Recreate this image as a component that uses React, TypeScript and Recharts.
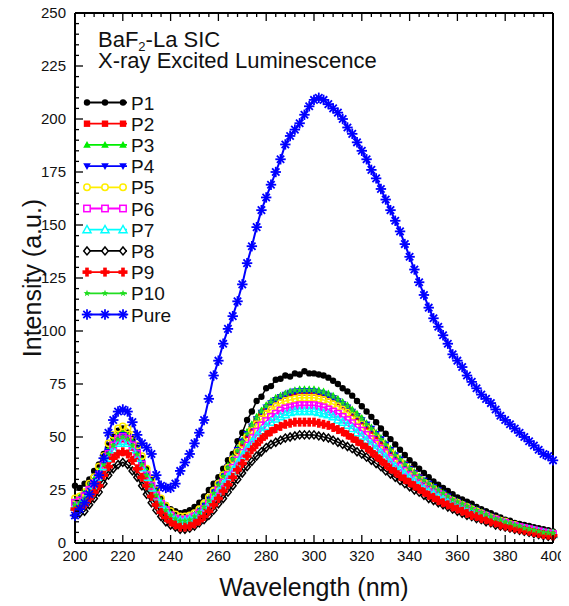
import React from 'react';
import { LineChart, Line, XAxis, YAxis } from 'recharts';

const WAVELENGTH = [
  200, 202, 204, 206, 208, 210, 212, 214, 216, 218,
  220, 222, 224, 226, 228, 230, 232, 234, 236, 238,
  240, 242, 244, 246, 248, 250, 252, 254, 256, 258,
  260, 262, 264, 266, 268, 270, 272, 274, 276, 278,
  280, 282, 284, 286, 288, 290, 292, 294, 296, 298,
  300, 302, 304, 306, 308, 310, 312, 314, 316, 318,
  320, 322, 324, 326, 328, 330, 332, 334, 336, 338,
  340, 342, 344, 346, 348, 350, 352, 354, 356, 358,
  360, 362, 364, 366, 368, 370, 372, 374, 376, 378,
  380, 382, 384, 386, 388, 390, 392, 394, 396, 398,
  400,
];

const P1 = [
  27, 26, 28, 30, 34, 37, 42, 46, 50, 53,
  54, 52, 49, 45, 40, 35, 30, 25, 21, 18,
  16, 15, 14, 14.5, 15.5, 17, 19, 22, 25, 28,
  31, 35, 39, 42, 48, 52, 58, 62, 67, 69,
  73, 74, 77, 77.5, 79, 78.5, 80, 79.5, 81, 80,
  80, 79.5, 79, 78, 76.5, 75, 73, 71.5, 69.5, 67,
  64.5, 62, 59.5, 57, 54, 51.5, 49, 46.5, 44, 41.5,
  39, 37, 35, 33, 31, 29, 27.5, 26, 24.5, 23,
  21.5, 20.5, 19.5, 18.5, 17, 16, 15, 14, 13, 12,
  11, 10.5, 9.5, 9, 8.5, 8, 7.5, 7, 6.5, 6,
  5.5,
];

const P2 = [
  19, 20, 22, 25, 28, 32, 37, 42, 46, 48,
  49, 48, 45, 41, 36, 31, 26, 22, 18, 15,
  13, 11.5, 10.5, 10.5, 11, 12.5, 14.5, 17, 20, 23.5,
  27.5, 31.5, 35.5, 39.5, 43.5, 47, 51, 54.5, 58, 61,
  63.5, 65.5, 67, 68.5, 69.5, 70.5, 71, 71, 71, 71,
  71, 70.5, 70, 69, 68, 66.5, 65, 63.5, 61.5, 59.5,
  57.5, 55, 53, 50.5, 48, 46, 43.5, 41, 39, 37,
  35, 33, 31, 29, 27.5, 26, 24.5, 23, 21.5, 20,
  19, 18, 17, 16, 15, 14, 13, 12, 11, 10.5,
  10, 9, 8.5, 7.5, 7, 6.5, 6, 5.5, 5, 4.7,
  4.3,
];

const P3 = [
  20, 22, 24, 27, 30, 34, 39, 44, 48, 51,
  52, 51, 48, 44, 39, 34, 29, 24, 20, 16.5,
  14, 12.5, 11.5, 11.5, 12, 13.5, 15.5, 18, 21, 24.5,
  28.5, 32.5, 36.5, 40.5, 44.5, 48.5, 52.5, 56, 59.5, 62.5,
  65, 67, 68.5, 69.5, 70.5, 71.5, 72, 72.5, 72.5, 72.5,
  72.5, 72, 71.5, 70.5, 69.5, 68, 66.5, 65, 63, 61,
  59, 56.5, 54.5, 52, 49.5, 47, 44.5, 42, 40, 37.5,
  35.5, 33.5, 31.5, 29.5, 28, 26.5, 25, 23.5, 22, 20.5,
  19.5, 18.5, 17.5, 16.5, 15.5, 14.5, 13.5, 12.5, 11.5, 10.5,
  10, 9, 8.5, 7.5, 7, 6.5, 6, 5.5, 5, 4.8,
  4.6,
];

const P4 = [
  19, 21, 23, 26, 29, 33, 38, 43, 47, 50,
  51, 50, 47, 43, 38, 33, 28, 23, 19, 16,
  13.5, 12, 11, 11, 11.5, 13, 15, 17.5, 20.5, 24,
  28, 32, 36, 40, 44, 48, 51.5, 55, 58.5, 61.5,
  64, 66, 67.5, 69, 70, 71, 71.5, 71.5, 71.5, 71.5,
  71.5, 71, 70.5, 69.5, 68.5, 67, 65.5, 64, 62, 60,
  58, 56, 54, 51.5, 49, 46.5, 44, 41.5, 39.5, 37,
  35, 33, 31, 29.5, 28, 26.5, 25, 23.5, 22, 20.5,
  19.5, 18.5, 17.5, 16.5, 15.5, 14.5, 13.5, 12.5, 11.5, 10.5,
  10, 9, 8.5, 7.5, 7, 6.5, 6, 5.5, 5, 4.7,
  4.5,
];

const P5 = [
  21, 22, 24, 28, 31, 36, 41, 47, 51, 54,
  55, 54, 51, 46, 41, 35, 30, 25, 21, 17.5,
  15, 13.5, 12.5, 12.5, 13, 14, 16, 18.5, 21.5, 24.5,
  28, 32, 35.5, 39.5, 43, 46.5, 50, 53, 56, 58.5,
  61, 63, 64.5, 66, 67, 67.5, 68, 68.5, 68.5, 68.5,
  68.5, 68, 67.5, 66.5, 65.5, 64.5, 63, 61.5, 60, 58,
  56, 54, 52, 49.5, 47, 45, 42.5, 40, 38, 36,
  34, 32, 30, 28.5, 27, 25.5, 24, 22.5, 21, 20,
  19, 18, 17, 16, 15, 14, 13, 12, 11.5, 10.5,
  10, 9, 8.5, 7.5, 7, 6.5, 6, 5.5, 5, 4.7,
  4.5,
];

const P6 = [
  19, 20, 22, 25, 28, 32, 37, 42, 46, 49,
  50, 49, 46, 42, 37, 32, 27, 22.5, 18.5, 15.5,
  13, 11.5, 11, 11, 11.5, 12.5, 14, 16, 18.5, 21.5,
  25, 28.5, 32, 35.5, 39, 42.5, 46, 49.5, 52.5, 55.5,
  57.5, 59.5, 61, 62.5, 63.5, 64, 64.5, 65, 65, 65,
  65, 64.5, 64, 63, 62, 61, 59.5, 58, 56.5, 54.5,
  53, 51, 49, 47, 44.5, 42.5, 40, 38, 36, 34,
  32, 30.5, 28.5, 27, 25.5, 24, 23, 21.5, 20, 19,
  18, 17, 16, 15, 14, 13.5, 12.5, 11.5, 11, 10,
  9.5, 8.5, 8, 7.5, 7, 6.5, 6, 5.5, 5, 4.5,
  4.2,
];

const P7 = [
  17, 18, 20, 23, 27, 31, 36, 40, 44, 47,
  48, 47, 44, 40, 35.5, 31, 26, 21.5, 18, 15,
  12.5, 11, 10.5, 10.5, 11, 12, 13.5, 15.5, 18, 20.5,
  24, 27.5, 31, 34, 37.5, 41, 44.5, 47.5, 50.5, 53,
  55, 57, 58.5, 59.5, 60.5, 61.5, 62, 62, 62, 62,
  62, 61.5, 61, 60.5, 59.5, 58, 57, 55.5, 54, 52,
  50.5, 48.5, 46.5, 44.5, 42.5, 40.5, 38, 36, 34.5, 32.5,
  30.5, 29, 27, 25.5, 24, 23, 21.5, 20.5, 19, 18,
  17, 16, 15, 14.5, 13.5, 12.5, 12, 11, 10, 9.5,
  9, 8, 7.5, 7, 6.5, 6, 5.5, 5, 4.5, 4.2,
  4,
];

const P8 = [
  13, 14, 15, 18, 21, 24, 28, 32, 35, 37,
  38, 37, 34, 31, 27, 23, 19, 15.5, 12.5, 10,
  8.5, 7.5, 6.5, 6.5, 7, 8, 9.5, 11, 13, 15.5,
  18.5, 21, 24, 27, 30, 33, 36, 38.5, 41, 43,
  45, 46.5, 47.5, 48.5, 49.5, 50, 50.5, 51, 51, 51,
  51, 50.5, 50, 49.5, 48.5, 47.5, 46.5, 45.5, 44.5, 43,
  42, 40.5, 39, 37.5, 36, 34, 32.5, 31, 29.5, 28,
  26.5, 25, 24, 22.5, 21, 20, 19, 18, 17, 16,
  15, 14, 13, 12.5, 11.5, 11, 10, 9.5, 8.5, 8,
  7.5, 7, 6.5, 6, 5.5, 5, 4.5, 4, 3.5, 3.2,
  3,
];

const P9 = [
  16, 17, 18, 21, 24, 27, 32, 36, 40, 42,
  43, 42, 39, 35, 31, 27, 22, 18, 14.5, 12,
  10, 8.5, 7.5, 7.5, 8, 9, 10.5, 12.5, 15, 18,
  21, 24.5, 27.5, 31, 34.5, 37.5, 41, 44, 46.5, 49,
  51, 52.5, 54, 55, 56, 56.5, 57, 57, 57, 57,
  57, 56.5, 56, 55.5, 54.5, 53.5, 52.5, 51, 49.5, 48,
  46.5, 45, 43, 41, 39, 37, 35, 33.5, 31.5, 30,
  28.5, 27, 25.5, 24, 22.5, 21.5, 20, 19, 18, 17,
  16, 15, 14, 13, 12.5, 11.5, 11, 10, 9.5, 8.5,
  8, 7.5, 7, 6.5, 6, 5.5, 5, 4.5, 4, 3.7,
  3.4,
];

const P10 = [
  18, 19, 21, 24, 28, 32, 37, 42, 46, 49,
  50, 49, 46, 42, 37, 32, 27, 22.5, 18.5, 15.5,
  13, 11.5, 10.5, 10.5, 11, 12.5, 14.5, 17, 20, 23.5,
  27.5, 31.5, 35.5, 39.5, 43.5, 47.5, 51.5, 55.5, 59, 62,
  64.5, 66.5, 68, 69.5, 70.5, 71.5, 72, 72, 72, 72,
  72, 71.5, 71, 70, 69, 67.5, 66, 64.5, 62.5, 60.5,
  58.5, 56, 54, 51.5, 49, 46.5, 44, 41.5, 39.5, 37,
  35, 33, 31, 29.5, 28, 26.5, 25, 23.5, 22, 20.5,
  19.5, 18.5, 17.5, 16.5, 15.5, 14.5, 13.5, 12.5, 11.5, 11,
  10, 9.5, 8.5, 8, 7, 6.5, 6, 5.5, 5, 4.8,
  4.6,
];

const PURE = [
  13, 16, 19, 23, 28, 32, 40, 52, 58, 62,
  63, 62, 57, 51, 47, 45, 42, 32, 27, 26,
  26, 28, 34, 38, 42, 47, 52, 58, 68, 79,
  86, 94, 101, 107, 114, 122, 132, 140, 149, 157,
  163, 169, 175, 181, 188, 192, 195, 198, 202, 206,
  209, 210, 209, 207, 205, 203, 200, 196, 193, 189,
  185, 181, 176, 172, 167, 162, 157, 152, 147, 141,
  135, 129, 123, 117, 111, 106, 102, 98, 94, 89,
  86, 83, 79, 76, 73, 70, 68, 66, 63, 60,
  58, 56, 54, 52, 50, 48, 46, 44, 42, 41,
  39,
];

const X_LABELS = [200, 220, 240, 260, 280, 300, 320, 340, 360, 380, 400];
const Y_LABELS = [0, 25, 50, 75, 100, 125, 150, 175, 200, 225, 250];

// minor ticks: 5 per major interval on both axes
const X_TICKS = X_LABELS.flatMap((v, i) => (i === 0 ? [v] : [v - 16, v - 12, v - 8, v - 4, v]));
const Y_TICKS = Y_LABELS.flatMap((v, i) => (i === 0 ? [v] : [v - 20, v - 15, v - 10, v - 5, v]));

const SERIES = [
  { key: 'P1', values: P1, color: '#000000', shape: 'circle' },
  { key: 'P2', values: P2, color: '#ff0000', shape: 'square' },
  { key: 'P3', values: P3, color: '#00ee00', shape: 'triUp' },
  { key: 'P4', values: P4, color: '#0000ff', shape: 'triDown' },
  { key: 'P5', values: P5, color: '#ffee00', shape: 'circleOpen' },
  { key: 'P6', values: P6, color: '#ff00ff', shape: 'squareOpen' },
  { key: 'P7', values: P7, color: '#00ffff', shape: 'triOpen' },
  { key: 'P8', values: P8, color: '#000000', shape: 'diamondOpen' },
  { key: 'P9', values: P9, color: '#ff0000', shape: 'plus' },
  { key: 'P10', values: P10, color: '#22dd22', shape: 'star' },
  { key: 'Pure', values: PURE, color: '#0000ff', shape: 'asterisk' },
];

const data = WAVELENGTH.map((w, i) => {
  const row: Record<string, number> = { w };
  SERIES.forEach((s) => {
    row[s.key] = s.values[i];
  });
  return row;
});

// the wrapper cancels the body margin, so chart coords == page coords
const W = 569;
const H = 606;
const FONT = '"Liberation Sans", Arial, sans-serif';

function marker(shape: string, color: string, cx: number, cy: number, key: string, legend = false) {
  const hollowFill = legend ? '#fff' : 'none';
  switch (shape) {
    case 'circle':
      return <circle key={key} cx={cx} cy={cy} r={3.2} fill={color} />;
    case 'square':
      return <rect key={key} x={cx - 3.2} y={cy - 3.2} width={6.4} height={6.4} fill={color} />;
    case 'triUp':
      return (
        <polygon key={key} points={`${cx},${cy - 4} ${cx - 3.8},${cy + 2.8} ${cx + 3.8},${cy + 2.8}`} fill={color} />
      );
    case 'triDown':
      return (
        <polygon key={key} points={`${cx},${cy + 4} ${cx - 3.8},${cy - 2.8} ${cx + 3.8},${cy - 2.8}`} fill={color} />
      );
    case 'circleOpen':
      return <circle key={key} cx={cx} cy={cy} r={3.2} fill={hollowFill} stroke={color} strokeWidth={1.5} />;
    case 'squareOpen':
      return (
        <rect key={key} x={cx - 3.2} y={cy - 3.2} width={6.4} height={6.4} fill={hollowFill} stroke={color} strokeWidth={1.5} />
      );
    case 'triOpen':
      return (
        <polygon
          key={key}
          points={`${cx},${cy - 4.2} ${cx - 4},${cy + 3} ${cx + 4},${cy + 3}`}
          fill={hollowFill}
          stroke={color}
          strokeWidth={1.5}
        />
      );
    case 'diamondOpen':
      return (
        <polygon
          key={key}
          points={`${cx},${cy - 4} ${cx + 3.3},${cy} ${cx},${cy + 4} ${cx - 3.3},${cy}`}
          fill={hollowFill}
          stroke={color}
          strokeWidth={1.5}
        />
      );
    case 'plus':
      return (
        <g key={key} fill={color}>
          <rect x={cx - 4.5} y={cy - 1.8} width={9} height={3.6} />
          <rect x={cx - 1.8} y={cy - 4.5} width={3.6} height={9} />
        </g>
      );
    case 'star': {
      const pts: string[] = [];
      for (let k = 0; k < 10; k++) {
        const r = k % 2 === 0 ? 3.6 : 1.5;
        const a = -Math.PI / 2 + (k * Math.PI) / 5;
        pts.push(`${cx + r * Math.cos(a)},${cy + r * Math.sin(a)}`);
      }
      return <polygon key={key} points={pts.join(' ')} fill={color} />;
    }
    case 'asterisk':
    default: {
      const r = 5.2;
      const d = r * 0.707;
      return (
        <g key={key} stroke={color} strokeWidth={1.8}>
          <line x1={cx - r} y1={cy} x2={cx + r} y2={cy} />
          <line x1={cx} y1={cy - r} x2={cx} y2={cy + r} />
          <line x1={cx - d} y1={cy - d} x2={cx + d} y2={cy + d} />
          <line x1={cx - d} y1={cy + d} x2={cx + d} y2={cy - d} />
        </g>
      );
    }
  }
}

const tickText = { fontSize: 15, fontFamily: FONT, fill: '#111' };

const BottomTick = (p: any) => {
  const v = p.payload.value;
  const major = v % 20 === 0;
  return (
    <g>
      <line x1={p.x} x2={p.x} y1={p.y} y2={p.y - (major ? 8 : 4)} stroke="#000" strokeWidth={1.3} />
      {major && (
        <text x={p.x} y={p.y + 18} textAnchor="middle" {...tickText}>
          {v}
        </text>
      )}
    </g>
  );
};

const TopTick = (p: any) => {
  const major = p.payload.value % 20 === 0;
  return <line x1={p.x} x2={p.x} y1={p.y} y2={p.y + (major ? 8 : 4)} stroke="#000" strokeWidth={1.3} />;
};

const LeftTick = (p: any) => {
  const v = p.payload.value;
  const major = v % 25 === 0;
  return (
    <g>
      <line x1={p.x} x2={p.x + (major ? 8 : 4)} y1={p.y} y2={p.y} stroke="#000" strokeWidth={1.3} />
      {major && (
        <text x={p.x - 9} y={p.y + 5} textAnchor="end" {...tickText}>
          {v}
        </text>
      )}
    </g>
  );
};

const RightTick = (p: any) => {
  const major = p.payload.value % 25 === 0;
  return <line x1={p.x} x2={p.x - (major ? 8 : 4)} y1={p.y} y2={p.y} stroke="#000" strokeWidth={1.3} />;
};

const axisCommon = {
  tickSize: 0,
  tickMargin: 0,
  tickLine: false,
  interval: 0 as const,
  axisLine: { stroke: '#000', strokeWidth: 2 },
};

export default function App() {
  return (
    <div style={{ position: 'relative', width: W, height: H, margin: '-8px 0 0 -8px', fontFamily: FONT }}>
      <LineChart width={W} height={H} data={data} margin={{ top: 12, right: 15, bottom: 62, left: 74 }}>
        <XAxis
          xAxisId="b"
          dataKey="w"
          type="number"
          domain={[200, 400]}
          ticks={X_TICKS}
          height={1}
          tick={(p: any) => <BottomTick {...p} />}
          {...axisCommon}
        />
        <XAxis
          xAxisId="t"
          orientation="top"
          dataKey="w"
          type="number"
          domain={[200, 400]}
          ticks={X_TICKS}
          height={1}
          tick={(p: any) => <TopTick {...p} />}
          {...axisCommon}
        />
        <YAxis
          yAxisId="l"
          type="number"
          domain={[0, 250]}
          ticks={Y_TICKS}
          width={1}
          tick={(p: any) => <LeftTick {...p} />}
          {...axisCommon}
        />
        <YAxis
          yAxisId="r"
          orientation="right"
          type="number"
          domain={[0, 250]}
          ticks={Y_TICKS}
          width={1}
          tick={(p: any) => <RightTick {...p} />}
          {...axisCommon}
        />
        {SERIES.map((s) => (
          <Line
            key={s.key}
            xAxisId="b"
            yAxisId="l"
            dataKey={s.key}
            type="linear"
            stroke={s.color}
            strokeWidth={s.key === 'Pure' ? 2 : 1.5}
            isAnimationActive={false}
            dot={(p: any) =>
              p.cx == null || p.cy == null ? (
                <g key={`${s.key}-${p.index}`} />
              ) : (
                marker(s.shape, s.color, p.cx, p.cy, `${s.key}-${p.index}`)
              )
            }
            activeDot={false}
          />
        ))}
      </LineChart>
      <svg
        width={W}
        height={H}
        style={{ position: 'absolute', left: 0, top: 0, pointerEvents: 'none' }}
        fontFamily={FONT}
      >
        {/* two-line title kept in one text block */}
        <text x={98} y={47} fontSize={22} fill="#111">
          <tspan>BaF</tspan>
          <tspan dy={4} fontSize={13}>
            2
          </tspan>
          <tspan dy={-4}>-La SIC</tspan>
          <tspan x={98} dy={21}>
            X-ray Excited Luminescence
          </tspan>
        </text>
        {SERIES.map((s, k) => {
          const y = 102.5 + 21.2 * k;
          return (
            <g key={s.key}>
              <line x1={85} x2={127} y1={y} y2={y} stroke={s.color} strokeWidth={s.key === 'Pure' ? 2 : 1.8} />
              {[87, 105, 123].map((x, j) => marker(s.shape, s.color, x, y, `lg-${s.key}-${j}`, true))}
              <text x={131} y={y + 7} fontSize={19} fill="#111">
                {s.key}
              </text>
            </g>
          );
        })}
        <text x={33} y={278} fontSize={25} fill="#111" textAnchor="middle" transform="rotate(-90 33 278)" dy={8}>
          Intensity (a.u.)
        </text>
        <text x={314} y={596} fontSize={25} fill="#111" textAnchor="middle">
          Wavelength (nm)
        </text>
      </svg>
    </div>
  );
}
